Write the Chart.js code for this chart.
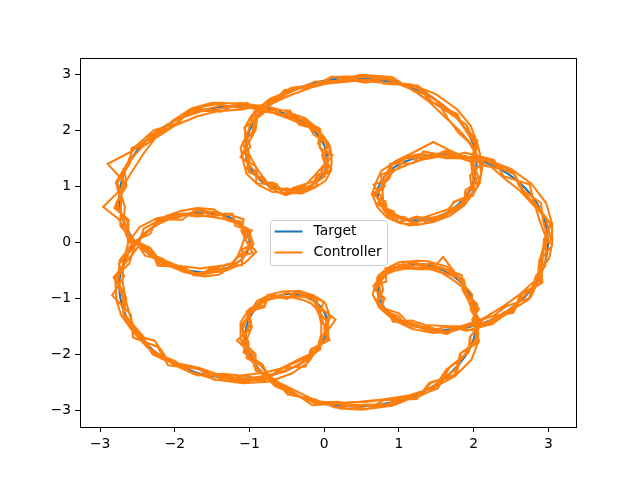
<!DOCTYPE html>
<html>
<head>
<meta charset="utf-8">
<script src="https://cdn.jsdelivr.net/npm/chart.js@4"></script>
<style>
  html, body { margin: 0; padding: 0; background: #fff; }
  canvas { display: block; }
</style>
</head>
<body>
<canvas id="chart" width="640" height="480"></canvas>
<script>
// series names + tick values
const seriesNames = ['Target', 'Controller'];
const seriesColors = ['#1f77b4', '#ff7f0e'];
const xTicks = [-3, -2, -1, 0, 1, 2, 3];
const yTicks = [-3, -2, -1, 0, 1, 2, 3];

// reference path
const targetPath = [
  [3.00,0.00],[2.96,0.35],[2.86,0.67],[2.69,0.97],[2.47,1.21],[2.21,1.40],[1.93,1.52],[1.65,1.57],[1.38,1.55],[1.14,1.47],
  [0.95,1.35],[0.81,1.18],[0.73,1.00],[0.72,0.82],[0.77,0.65],[0.88,0.51],[1.03,0.42],[1.22,0.39],[1.41,0.41],[1.61,0.51],
  [1.79,0.67],[1.93,0.88],[2.01,1.14],[2.04,1.43],[2.00,1.73],[1.89,2.03],[1.71,2.31],[1.47,2.56],[1.18,2.75],[0.86,2.87],
  [0.52,2.93],[0.17,2.92],[-0.15,2.84],[-0.45,2.69],[-0.69,2.49],[-0.88,2.26],[-1.00,2.00],[-1.05,1.74],[-1.04,1.49],[-0.97,1.28],
  [-0.85,1.10],[-0.69,0.99],[-0.52,0.93],[-0.34,0.94],[-0.18,1.01],[-0.06,1.14],[0.02,1.31],[0.04,1.52],[0.00,1.73],[-0.11,1.95],
  [-0.28,2.14],[-0.51,2.29],[-0.79,2.40],[-1.09,2.44],[-1.41,2.41],[-1.73,2.32],[-2.03,2.15],[-2.29,1.93],[-2.50,1.65],[-2.65,1.33],
  [-2.73,1.00],[-2.74,0.66],[-2.68,0.35],[-2.56,0.06],[-2.38,-0.18],[-2.17,-0.37],[-1.93,-0.48],[-1.69,-0.53],[-1.47,-0.52],[-1.28,-0.45],
  [-1.13,-0.33],[-1.03,-0.17],[-1.00,0.00],[-1.03,0.17],[-1.13,0.33],[-1.28,0.45],[-1.47,0.52],[-1.69,0.53],[-1.93,0.48],[-2.17,0.37],
  [-2.38,0.18],[-2.56,-0.06],[-2.68,-0.35],[-2.74,-0.66],[-2.73,-1.00],[-2.65,-1.33],[-2.50,-1.65],[-2.29,-1.93],[-2.03,-2.15],[-1.73,-2.32],
  [-1.41,-2.41],[-1.09,-2.44],[-0.79,-2.40],[-0.51,-2.29],[-0.28,-2.14],[-0.11,-1.95],[0.00,-1.73],[0.04,-1.52],[0.02,-1.31],[-0.06,-1.14],
  [-0.18,-1.01],[-0.34,-0.94],[-0.52,-0.93],[-0.69,-0.99],[-0.85,-1.10],[-0.97,-1.28],[-1.04,-1.49],[-1.05,-1.74],[-1.00,-2.00],[-0.88,-2.26],
  [-0.69,-2.49],[-0.45,-2.69],[-0.15,-2.84],[0.17,-2.92],[0.52,-2.93],[0.86,-2.87],[1.18,-2.75],[1.47,-2.56],[1.71,-2.31],[1.89,-2.03],
  [2.00,-1.73],[2.04,-1.43],[2.01,-1.14],[1.93,-0.88],[1.79,-0.67],[1.61,-0.51],[1.41,-0.41],[1.22,-0.39],[1.03,-0.42],[0.88,-0.51],
  [0.77,-0.65],[0.72,-0.82],[0.73,-1.00],[0.81,-1.18],[0.95,-1.35],[1.14,-1.47],[1.38,-1.55],[1.65,-1.57],[1.93,-1.52],[2.21,-1.40],
  [2.47,-1.21],[2.69,-0.97],[2.86,-0.67],[2.96,-0.35],[3.00,0.00]
];

// controller trajectory, 6 laps, noisy
const controllerPath = [
  // lap 1
  [3.02,-0.04],[2.93,0.38],[2.90,0.70],[2.64,0.95],[2.52,1.27],[2.16,1.36],[1.98,1.49],[1.62,1.63],[1.40,1.51],[1.09,1.50],
  [0.98,1.31],[0.76,1.21],[0.78,0.97],[0.68,0.84],[0.81,0.61],[0.85,0.47],[1.07,0.45],[1.20,0.35],[1.45,0.44],[1.58,0.48],
  [1.84,0.70],[1.90,0.85],[2.06,1.17],[1.99,1.45],[2.04,1.70],[1.86,2.07],[1.75,2.28],[1.44,2.60],[1.21,2.71],[0.83,2.91],
  [0.55,2.90],[0.14,2.88],[-0.12,2.87],[-0.49,2.66],[-0.66,2.53],[-0.93,2.24],[-0.96,1.97],[-1.09,1.76],[-1.00,1.46],[-1.01,1.25],
  [-0.82,1.14],[-0.72,0.95],[-0.49,0.96],[-0.37,0.90],[-0.14,1.04],[-0.10,1.12],[0.06,1.34],[0.00,1.49],[0.04,1.76],[-0.14,1.92],
  [-0.25,2.18],[-0.54,2.26],[-0.76,2.43],[-1.12,2.40],[-1.38,2.45],[-1.76,2.29],[-2.00,2.18],[-2.33,1.90],[-2.46,1.68],[-2.69,1.30],
  [-2.70,1.03],[-2.78,0.63],[-2.64,0.38],[-2.60,0.03],[-2.35,-0.15],[-2.20,-0.40],[-1.90,-0.45],[-1.72,-0.56],[-1.44,-0.49],[-1.31,-0.48],
  [-1.09,-0.30],[-1.06,-0.20],[-0.97,0.03],[-1.07,0.14],[-1.10,0.36],[-1.31,0.42],[-1.44,0.55],[-1.72,0.50],[-1.90,0.51],[-2.20,0.34],
  [-2.35,0.21],[-2.60,-0.09],[-2.65,-0.32],[-2.78,-0.69],[-2.70,-0.97],[-2.68,-1.36],[-2.47,-1.62],[-2.32,-1.96],[-2.00,-2.12],[-1.76,-2.35],
  [-1.38,-2.38],[-1.12,-2.47],[-0.76,-2.37],[-0.54,-2.32],[-0.25,-2.11],[-0.14,-1.98],[0.04,-1.70],[0.00,-1.55],[0.06,-1.28],[-0.10,-1.17],
  [-0.15,-0.98],[-0.37,-0.97],[-0.49,-0.90],[-0.72,-1.02],[-0.82,-1.07],[-1.01,-1.31],[-1.00,-1.46],[-1.09,-1.77],[-0.96,-1.97],[-0.92,-2.29],
  [-0.65,-2.46],[-0.49,-2.72],[-0.12,-2.81],[0.14,-2.95],[0.55,-2.90],[0.83,-2.90],[1.21,-2.72],[1.44,-2.59],[1.75,-2.28],[1.85,-2.06],
  [2.04,-1.70],[2.00,-1.46],[2.05,-1.11],[1.89,-0.91],[1.82,-0.64],[1.58,-0.54],[1.44,-0.38],[1.19,-0.42],[1.06,-0.39],[0.84,-0.54],
  [0.80,-0.62],[0.68,-0.85],[0.77,-0.97],[0.78,-1.21],[0.99,-1.32],[1.11,-1.50],[1.41,-1.52],[1.62,-1.60],[1.96,-1.49],[2.18,-1.43],
  [2.51,-1.18],[2.65,-1.00],[2.90,-0.64],[2.92,-0.38],
  // lap 2
  [2.94,0.05],[3.04,0.31],[2.80,0.74],[2.75,1.03],[2.40,1.18],[2.27,1.47],[1.88,1.60],[1.70,1.52],[1.33,1.62],[1.19,1.41],
  [0.88,1.40],[0.86,1.12],[0.66,1.03],[0.78,0.78],[0.70,0.68],[0.93,0.55],[0.99,0.36],[1.27,0.44],[1.37,0.35],[1.67,0.55],
  [1.73,0.72],[1.99,0.83],[1.95,1.19],[2.10,1.40],[1.94,1.78],[1.80,1.95],[1.66,2.20],[1.52,2.50],[1.25,2.80],[0.80,2.83],
  [0.58,2.97],[0.11,2.95],[-0.10,2.80],[-0.40,2.75],[-0.75,2.45],[-0.82,2.30],[-1.07,2.04],[-0.99,1.70],[-1.11,1.53],[-0.91,1.24],
  [-0.91,1.05],[-0.64,1.04],[-0.56,0.87],[-0.29,0.99],[-0.23,0.96],[0.01,1.18],[-0.04,1.27],[0.11,1.56],[-0.06,1.69],[-0.05,2.00],
  [-0.34,2.10],[-0.46,2.35],[-0.85,2.36],[-1.04,2.49],[-1.47,2.36],[-1.68,2.38],[-2.09,2.11],[-2.22,1.97],[-2.58,1.62],[-2.90,1.40],
  [-2.66,1.05],[-2.81,0.61],[-2.62,0.40],[-2.63,0.01],[-2.32,-0.12],[-2.23,-0.42],[-1.87,-0.44],[-1.75,-0.59],[-1.41,-0.47],[-1.33,-0.51],
  [-1.06,-0.37],[-0.91,-0.17],[-1.06,0.04],[-0.97,0.21],[-1.19,0.29],[-1.23,0.51],[-1.53,0.47],[-1.64,0.59],[-1.99,0.43],[-2.11,0.42],
  [-2.44,0.14],[-2.50,-0.01],[-2.75,-0.39],[-2.68,-0.61],[-2.84,-0.95],[-2.59,-1.29],[-2.56,-1.70],[-2.23,-1.87],[-2.09,-2.20],[-1.67,-2.27],
  [-1.47,-2.46],[-1.03,-2.39],[-0.85,-2.45],[-0.45,-2.25],[-0.34,-2.19],[-0.05,-1.91],[-0.07,-1.77],[0.10,-1.48],[0.15,-1.38],[-0.12,-1.10],
  [-0.13,-1.06],[-0.39,-0.89],[-0.47,-0.98],[-0.75,-0.94],[-0.80,-1.16],[-1.04,-1.24],[-0.98,-1.54],[-1.17,-1.75],[-0.94,-2.05],[-0.94,-2.21],
  [-0.63,-2.54],[-0.51,-2.64],[-0.10,-2.89],[0.11,-2.87],[0.58,-2.98],[0.80,-2.82],[1.24,-2.80],[1.41,-2.51],[1.77,-2.36],[1.83,-1.98],
  [2.07,-1.78],[1.98,-1.38],[2.07,-1.19],[1.87,-0.83],[1.85,-0.72],[1.59,-0.26],[1.46,-0.46],[1.16,-0.34],[1.09,-0.47],[0.82,-0.46],
  [0.83,-0.70],[0.66,-0.78],[0.79,-1.05],[0.75,-1.13],[1.01,-1.40],[1.08,-1.42],[1.44,-1.60],[1.59,-1.52],[1.99,-1.57],[2.15,-1.35],
  [2.53,-1.26],[2.63,-0.92],[2.92,-0.72],[2.90,-0.30],
  // lap 3
  [3.05,-0.06],[3.05,0.33],[2.97,0.70],[2.77,1.05],[2.50,1.31],[2.19,1.47],[1.86,1.54],[1.55,1.53],[1.29,1.47],[1.09,1.37],
  [0.95,1.29],[0.85,1.17],[0.80,1.05],[0.78,0.91],[0.79,0.71],[0.85,0.51],[0.97,0.37],[1.14,0.30],[1.37,0.34],[1.62,0.49],
  [1.85,0.70],[2.03,0.95],[2.10,1.23],[2.08,1.48],[1.98,1.73],[1.82,1.98],[1.62,2.23],[1.41,2.50],[1.17,2.74],[0.90,2.91],
  [0.60,2.96],[0.24,2.91],[-0.12,2.79],[-0.48,2.61],[-0.76,2.44],[-0.97,2.27],[-1.06,2.06],[-1.06,1.83],[-1.00,1.55],[-0.89,1.29],
  [-0.76,1.06],[-0.64,0.91],[-0.52,0.84],[-0.39,0.89],[-0.26,1.01],[-0.13,1.19],[0.00,1.39],[0.07,1.58],[0.07,1.74],[-0.02,1.91],
  [-0.22,2.06],[-0.50,2.22],[-0.83,2.38],[-1.17,2.48],[-1.50,2.49],[-1.78,2.39],[-2.03,2.17],[-2.24,1.90],[-2.42,1.58],[-2.58,1.25],
  [-2.71,0.96],[-2.96,0.63],[-2.75,0.41],[-2.65,0.15],[-2.43,-0.13],[-2.17,-0.37],[-1.88,-0.53],[-1.61,-0.61],[-1.41,-0.58],[-1.27,-0.46],
  [-1.17,-0.29],[-1.11,-0.09],[-1.07,0.07],[-1.05,0.19],[-1.09,0.30],[-1.20,0.38],[-1.40,0.43],[-1.66,0.48],[-1.95,0.49],[-2.24,0.43],
  [-2.47,0.27],[-2.62,0.01],[-2.69,-0.33],[-2.70,-0.70],[-2.65,-1.08],[-2.58,-1.41],[-2.48,-1.68],[-2.27,-1.76],[-2.10,-2.09],[-1.82,-2.30],
  [-1.46,-2.45],[-1.09,-2.52],[-0.74,-2.49],[-0.43,-2.34],[-0.21,-2.14],[-0.09,-1.90],[-0.04,-1.65],[-0.04,-1.45],[-0.07,-1.29],[-0.11,-1.18],
  [-0.18,-1.09],[-0.29,-1.03],[-0.44,-0.98],[-0.63,-0.99],[-0.84,-1.05],[-1.01,-1.20],[-1.12,-1.43],[-1.12,-1.73],[-1.02,-2.04],[-0.84,-2.34],
  [-0.61,-2.58],[-0.36,-2.74],[-0.10,-2.84],[0.17,-2.87],[0.47,-2.85],[0.78,-2.81],[1.12,-2.74],[1.46,-2.60],[1.75,-2.39],[1.97,-2.10],
  [2.07,-1.75],[2.06,-1.39],[1.98,-1.06],[1.86,-0.81],[1.70,-0.65],[1.56,-0.54],[1.41,-0.48],[1.27,-0.48],[1.11,-0.47],[0.94,-0.51],
  [0.78,-0.60],[0.68,-0.74],[0.65,-0.94],[0.74,-1.17],[0.93,-1.39],[1.18,-1.55],[1.46,-1.62],[1.72,-1.59],[1.95,-1.48],[2.18,-1.32],
  [2.40,-1.14],[2.60,-0.95],[2.81,-0.70],[2.96,-0.42],
  // lap 4
  [2.97,0.08],[2.88,0.40],[2.83,0.62],[2.62,0.92],[2.42,1.13],[2.24,1.34],[2.00,1.46],[1.71,1.62],[1.46,1.79],[1.16,1.58],
  [0.97,1.46],[0.76,1.27],[0.69,1.06],[0.64,0.86],[0.71,0.63],[0.84,0.44],[1.02,0.34],[1.24,0.31],[1.46,0.36],[1.68,0.47],
  [1.87,0.65],[2.01,0.90],[2.08,1.05],[2.12,1.38],[2.05,1.76],[1.96,2.08],[1.78,2.37],[1.50,2.64],[1.16,2.82],[0.83,2.84],
  [0.47,2.89],[0.16,2.85],[-0.20,2.80],[-0.53,2.67],[-0.73,2.56],[-0.94,2.33],[-1.03,1.93],[-1.12,1.69],[-1.08,1.42],[-1.04,1.22],
  [-0.88,1.02],[-0.70,0.90],[-0.48,0.88],[-0.30,0.87],[-0.12,0.98],[0.02,1.10],[0.09,1.28],[0.10,1.47],[0.08,1.70],[-0.08,2.02],
  [-0.26,2.22],[-0.55,2.35],[-0.83,2.45],[-1.10,2.37],[-1.43,2.34],[-1.70,2.25],[-1.99,2.09],[-2.26,1.86],[-2.44,1.70],[-2.63,1.42],
  [-2.79,1.07],[-2.72,0.72],[-2.73,0.29],[-2.52,0.00],[-2.40,-0.24],[-2.13,-0.33],[-1.96,-0.42],[-1.66,-0.47],[-1.50,-0.44],[-1.24,-0.40],
  [-1.16,-0.25],[-0.98,-0.10],[-0.95,-0.04],[-0.99,0.11],[-1.07,0.27],[-1.25,0.38],[-1.48,0.59],[-1.70,0.61],[-1.91,0.56],[-2.13,0.46],
  [-2.33,0.23],[-2.53,-0.03],[-2.61,-0.38],[-2.80,-0.63],[-2.78,-1.05],[-2.72,-1.30],[-2.56,-1.60],[-2.36,-1.88],[-1.98,-2.21],[-1.70,-2.38],
  [-1.35,-2.35],[-1.13,-2.38],[-0.80,-2.33],[-0.57,-2.25],[-0.31,-2.07],[-0.17,-1.99],[-0.05,-1.80],[0.01,-1.58],[0.08,-1.34],[0.01,-1.08],
  [-0.14,-0.95],[-0.33,-0.87],[-0.56,-0.88],[-0.71,-0.93],[-0.90,-1.05],[-1.03,-1.33],[-1.09,-1.55],[-1.01,-1.80],[-1.04,-2.07],[-0.85,-2.20],
  [-0.73,-2.43],[-0.42,-2.63],[-0.19,-2.78],[0.21,-2.97],[0.49,-2.99],[0.91,-2.92],[1.14,-2.80],[1.52,-2.61],[1.67,-2.25],[1.93,-1.97],
  [1.95,-1.69],[2.09,-1.50],[1.96,-1.20],[1.98,-0.93],[1.76,-0.60],[1.65,-0.44],[1.38,-0.34],[1.25,-0.33],[1.00,-0.36],[0.86,-0.45],
  [0.72,-0.60],[0.75,-0.88],[0.70,-1.06],[0.85,-1.24],[0.92,-1.42],[1.17,-1.40],[1.35,-1.48],[1.68,-1.50],[1.90,-1.58],[2.25,-1.46],
  [2.44,-1.27],[2.74,-1.02],[2.83,-0.61],[3.01,-0.29],
  // lap 5
  [3.05,-0.03],[2.97,0.42],[2.80,0.69],[2.67,0.91],[2.55,1.21],[2.17,1.45],[1.96,1.44],[1.58,1.61],[1.43,1.52],[1.15,1.54],
  [0.89,1.37],[0.79,1.12],[0.81,1.00],[0.68,0.87],[0.80,0.57],[0.81,0.55],[1.08,0.39],[1.23,0.46],[1.35,0.43],[1.59,0.45],
  [1.87,0.67],[1.89,0.93],[2.04,1.06],[1.97,1.47],[2.05,1.70],[1.90,2.10],[1.65,2.33],[1.45,2.50],[1.26,2.75],[0.82,2.92],
  [0.55,2.85],[0.10,2.96],[-0.10,2.81],[-0.44,2.76],[-0.75,2.51],[-0.90,2.20],[-0.92,2.00],[-1.09,1.79],[-1.01,1.41],[-1.04,1.32],
  [-0.80,1.07],[-0.68,1.06],[-0.58,0.95],[-0.36,0.88],[-0.10,1.01],[-0.10,1.19],[0.05,1.23],[-0.03,1.56],[0.05,1.70],[-0.10,2.02],
  [-0.34,2.16],[-0.53,2.23],[-0.71,2.40],[-1.13,2.49],[-1.38,2.33],[-1.80,2.36],[-1.98,2.12],[-2.28,2.00],[-2.56,1.67],[-2.67,1.27],
  [-2.65,1.00],[-2.78,0.71],[-2.65,0.27],[-2.63,0.10],[-2.33,-0.21],[-2.16,-0.30],[-1.99,-0.46],[-1.71,-0.59],[-1.39,-0.52],[-1.32,-0.40],
  [-1.10,-0.41],[-1.10,-0.13],[-0.95,-0.03],[-1.02,0.24],[-1.19,0.35],[-1.30,0.39],[-1.39,0.52],[-1.73,0.58],[-1.90,0.40],[-2.24,0.41],
  [-2.33,0.15],[-2.55,0.01],[-2.74,-0.33],[-2.76,-0.72],[-2.65,-1.00],[-2.69,-1.28],[-2.47,-1.73],[-2.36,-1.89],[-1.98,-2.18],[-1.72,-2.25],
  [-1.47,-2.39],[-1.11,-2.50],[-0.71,-2.40],[-0.55,-2.24],[-0.25,-2.22],[-0.18,-1.91],[0.05,-1.76],[0.05,-1.45],[-0.04,-1.29],[-0.08,-1.20],
  [-0.10,-1.01],[-0.38,-0.89],[-0.49,-1.01],[-0.76,-0.95],[-0.80,-1.13],[-0.96,-1.21],[-1.10,-1.47],[-1.07,-1.80],[-0.92,-2.00],[-0.92,-2.21],
  [-0.66,-2.57],[-0.52,-2.65],[-0.10,-2.87],[0.18,-2.85],[0.46,-2.91],[0.84,-2.93],[1.26,-2.75],[1.43,-2.51],[1.74,-2.39],[1.82,-1.99],
  [2.05,-1.76],[2.05,-1.36],[1.95,-1.12],[1.91,-0.94],[1.87,-0.67],[1.57,-0.46],[1.44,-0.49],[1.15,-0.35],[1.08,-0.45],[0.89,-0.44],
  [0.71,-0.63],[0.70,-0.88],[0.81,-1.00],[0.77,-1.13],[0.98,-1.43],[1.07,-1.43],[1.43,-1.58],[1.66,-1.50],[1.87,-1.50],[2.19,-1.46],
  [2.55,-1.21],[2.65,-0.92],[2.89,-0.75],[2.89,-0.31],
  // lap 6
  [2.96,0.06],[3.03,0.33],[2.85,0.60],[2.61,1.00],[2.52,1.29],[2.17,1.46],[2.00,1.50],[1.64,1.50],[1.30,1.58],[1.19,1.55],
  [0.91,1.41],[0.88,1.16],[0.72,0.93],[0.64,0.85],[0.82,0.73],[0.84,0.57],[1.10,0.40],[1.21,0.32],[1.33,0.44],[1.66,0.59],
  [1.75,0.73],[2.00,0.86],[2.00,1.07],[1.96,1.46],[2.05,1.81],[1.85,2.09],[1.78,2.29],[1.46,2.49],[1.10,2.78],[0.91,2.95],
  [0.48,2.99],[0.24,2.90],[-0.16,2.77],[-0.53,2.72],[-0.64,2.57],[-0.92,2.32],[-0.93,1.98],[-1.06,1.67],[-1.12,1.52],[-0.92,1.36],
  [-0.89,1.16],[-0.62,0.97],[-0.53,0.86],[-0.42,0.97],[-0.13,1.09],[-0.10,1.20],[0.09,1.29],[0.03,1.45],[-0.08,1.76],[-0.06,2.03],
  [-0.32,2.20],[-0.44,2.27],[-0.80,2.33],[-1.17,2.47],[-1.36,2.49],[-1.77,2.38],[-1.96,2.13],[-2.30,1.86],[-2.58,1.68],[-2.60,1.41],
  [-2.77,1.06],[-2.67,0.64],[-2.69,0.28],[-2.64,0.09],[-2.33,-0.10],[-2.21,-0.31],[-1.86,-0.50],[-1.70,-0.60],[-1.55,-0.49],[-1.23,-0.37],
  [-1.17,-0.27],[-0.96,-0.19],[-1.01,-0.07],[-1.11,0.20],[-1.08,0.41],[-1.32,0.51],[-1.40,0.50],[-1.70,0.46],[-2.01,0.51],[-2.12,0.45],
  [-2.42,0.24],[-2.49,-0.08],[-2.69,-0.42],[-2.82,-0.63],[-2.68,-0.92],[-2.69,-1.27],[-2.43,-1.67],[-2.30,-2.00],[-2.11,-2.12],[-1.68,-2.24],
  [-1.45,-2.35],[-1.02,-2.46],[-0.80,-2.47],[-0.59,-2.26],[-0.23,-2.06],[-0.15,-1.89],[0.07,-1.75],[0.03,-1.59],[-0.06,-1.28],[-0.01,-1.06],
  [-0.22,-0.95],[-0.27,-0.96],[-0.53,-1.00],[-0.77,-0.96],[-0.80,-1.02],[-1.01,-1.22],[-0.97,-1.51],[-1.06,-1.81],[-1.08,-1.97],[-0.83,-2.18],
  [-0.73,-2.43],[-0.38,-2.71],[-0.16,-2.91],[0.09,-2.89],[0.57,-2.85],[0.82,-2.81],[1.25,-2.77],[1.46,-2.63],[1.63,-2.28],[1.94,-1.95],
  [1.96,-1.67],[2.11,-1.45],[2.00,-1.21],[1.85,-0.85],[1.84,-0.59],[1.57,-0.45],[1.48,-0.43],[1.21,-0.46],[0.95,-0.39],[0.93,-0.43],
  [0.73,-0.59],[0.79,-0.84],[0.72,-1.07],[0.73,-1.15],[1.00,-1.27],[1.10,-1.41],[1.45,-1.57],[1.64,-1.64],[1.85,-1.49],[2.26,-1.32],
  [2.43,-1.15],[2.76,-0.99],[2.85,-0.74],[2.88,-0.32],[2.98,0.02]
];

// matplotlib style unicode minus
const fmtTick = v => (v < 0 ? '\u2212' + Math.abs(v) : String(v));

const LINE_W = 2.08; // 1.5pt at 100 dpi

const frameAndLegend = {
  id: 'frameAndLegend',
  afterDraw(chart) {
    const ctx = chart.ctx;
    const a = chart.chartArea;
    ctx.save();
    // spines
    ctx.strokeStyle = '#000';
    ctx.lineWidth = 1;
    ctx.strokeRect(Math.round(a.left) + 0.5, Math.round(a.top) + 0.5,
      Math.round(a.right - a.left), Math.round(a.bottom - a.top));

    // legend box, centered like loc='best' picked
    const w = 117, h = 45;
    const lx = Math.round((a.left + a.right) / 2 - w / 2) + 0.5;
    const ly = Math.round((a.top + a.bottom) / 2 - h / 2) + 0.5;
    ctx.fillStyle = 'rgba(255,255,255,0.8)';
    ctx.strokeStyle = '#cccccc';
    ctx.beginPath();
    ctx.roundRect(lx, ly, w, h, 3);
    ctx.fill();
    ctx.stroke();

    ctx.font = '13.9px "DejaVu Sans"';
    ctx.textBaseline = 'middle';
    seriesNames.forEach((name, i) => {
      const cy = ly + 11 + i * 21;
      ctx.strokeStyle = seriesColors[i];
      ctx.lineWidth = LINE_W;
      ctx.beginPath();
      ctx.moveTo(lx + 4, cy);
      ctx.lineTo(lx + 32, cy);
      ctx.stroke();
      ctx.fillStyle = '#000';
      ctx.fillText(name, lx + 43, cy);
    });
    ctx.restore();
  }
};

new Chart(document.getElementById('chart'), {
  type: 'scatter',
  data: {
    datasets: [
      {
        label: seriesNames[0],
        data: targetPath.map(p => ({ x: p[0], y: p[1] })),
        showLine: true,
        borderColor: seriesColors[0],
        borderWidth: LINE_W,
        tension: 0.3,
        pointRadius: 0,
        order: 2
      },
      {
        label: seriesNames[1],
        data: controllerPath.map(p => ({ x: p[0], y: p[1] })),
        showLine: true,
        borderColor: seriesColors[1],
        borderWidth: LINE_W,
        tension: 0,
        pointRadius: 0,
        order: 1
      }
    ]
  },
  options: {
    responsive: false,
    animation: false,
    devicePixelRatio: 1,
    events: [],
    layout: { padding: { left: 0, top: 58, right: 64, bottom: 0 } },
    plugins: { legend: { display: false }, tooltip: { enabled: false } },
    scales: {
      x: {
        type: 'linear',
        min: -3.27,
        max: 3.37,
        afterFit: s => { s.height = 53; },
        afterBuildTicks: s => { s.ticks = xTicks.map(v => ({ value: v })); },
        grid: { drawOnChartArea: false, drawTicks: true, tickLength: 5, color: '#000' },
        border: { display: false },
        ticks: { color: '#000', padding: 4, font: { family: 'DejaVu Sans', size: 13.9 }, callback: fmtTick, maxRotation: 0 }
      },
      y: {
        type: 'linear',
        min: -3.30,
        max: 3.29,
        afterFit: s => { s.width = 80; },
        afterBuildTicks: s => { s.ticks = yTicks.map(v => ({ value: v })); },
        grid: { drawOnChartArea: false, drawTicks: true, tickLength: 5, color: '#000' },
        border: { display: false },
        ticks: { color: '#000', padding: 4, font: { family: 'DejaVu Sans', size: 13.9 }, callback: fmtTick }
      }
    }
  },
  plugins: [frameAndLegend]
});
</script>
</body>
</html>
